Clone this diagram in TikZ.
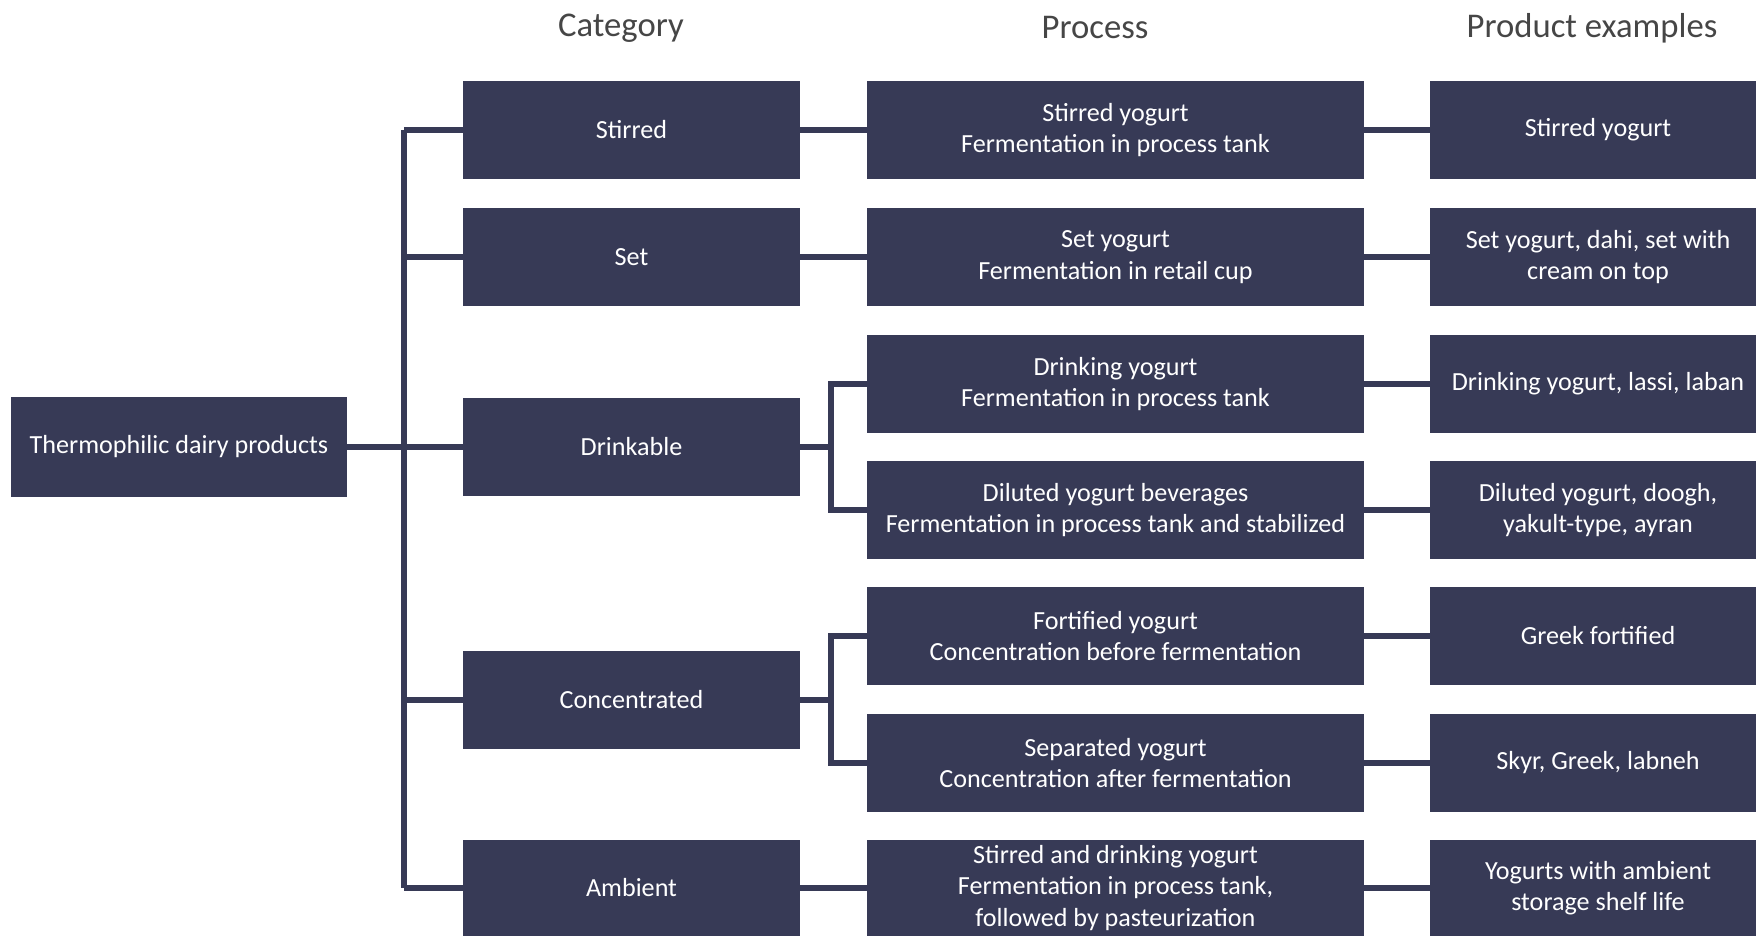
\documentclass[tikz,border=0pt]{standalone}
\usepackage{fontspec}
\setmainfont{Carlito}
\definecolor{boxc}{HTML}{373A56}
\definecolor{headc}{HTML}{464646}
\begin{document}
\begin{tikzpicture}[x=0.75pt,y=-0.75pt,
  box/.style={rectangle,fill=boxc,text=white,inner sep=0pt,align=center,
    font=\fontsize{19.6}{23.5}\selectfont},
  root/.style={box,minimum width=336*0.75pt,minimum height=100*0.75pt},
  cat/.style={box,minimum width=337*0.75pt,minimum height=98*0.75pt},
  proc/.style={box,minimum width=497*0.75pt,minimum height=98*0.75pt},
  prod/.style={box,minimum width=336*0.75pt,minimum height=98*0.75pt},
  head/.style={text=headc,font=\fontsize{26}{30}\selectfont,inner sep=0pt},
  conn/.style={draw=boxc,line width=4.5pt}]
\useasboundingbox (0,0) rectangle (1756,936);
% headers
\node[head] (h1) at (621,28) {Category};
\node[head] (h2) at (1095,28) {Process};
\node[head] (h3) at (1592,28) {Product examples};
% root
\node[root] (root) at (179,447) {Thermophilic dairy products};
% categories
\node[cat] (c1) at (631.5,130) {Stirred};
\node[cat] (c2) at (631.5,257) {Set};
\node[cat] (c3) at (631.5,447) {Drinkable};
\node[cat] (c4) at (631.5,700) {Concentrated};
\node[cat,minimum height=96*0.75pt] (c5) at (631.5,888) {Ambient};
% processes
\node[proc] (p1) at (1115.5,130) {Stirred yogurt\\Fermentation in process tank};
\node[proc] (p2) at (1115.5,257) {Set yogurt\\Fermentation in retail cup};
\node[proc] (p3) at (1115.5,384) {Drinking yogurt\\Fermentation in process tank};
\node[proc] (p4) at (1115.5,510) {Diluted yogurt beverages\\Fermentation in process tank and stabilized};
\node[proc] (p5) at (1115.5,636) {Fortified yogurt\\Concentration before fermentation};
\node[proc] (p6) at (1115.5,763) {Separated yogurt\\Concentration after fermentation};
\node[proc,minimum height=96*0.75pt] (p7) at (1115.5,888) {Stirred and drinking yogurt\\Fermentation in process tank,\\followed by pasteurization};
% products
\node[prod] (d1) at (1598,130) {Stirred yogurt};
\node[prod] (d2) at (1598,257) {Set yogurt, dahi, set with\\cream on top};
\node[prod] (d3) at (1598,384) {Drinking yogurt, lassi, laban};
\node[prod] (d4) at (1598,510) {Diluted yogurt, doogh,\\yakult-type, ayran};
\node[prod] (d5) at (1598,636) {Greek fortified};
\node[prod] (d6) at (1598,763) {Skyr, Greek, labneh};
\node[prod,minimum height=96*0.75pt] (d7) at (1598,888) {Yogurts with ambient\\storage shelf life};
% trunk
\coordinate (tt) at (404,130);
\coordinate (tb) at (404,888);
\draw[conn] (tt) -- (tb);
\draw[conn] (root.east) -- (root.east -| tt);
\foreach \c in {c1,c2,c3,c4,c5}{
  \draw[conn] (\c.west -| tt) -- (\c.west);
}
\draw[conn] (c1.east) -- (p1.west);
\draw[conn] (c2.east) -- (p2.west);
\draw[conn] (c5.east) -- (p7.west);
% brackets
\coordinate (bx) at (831,0);
\draw[conn] (c3.east) -- (c3.east -| bx);
\draw[conn] (p3.west) -- (p3.west -| bx) -- (p4.west -| bx) -- (p4.west);
\draw[conn] (c4.east) -- (c4.east -| bx);
\draw[conn] (p5.west) -- (p5.west -| bx) -- (p6.west -| bx) -- (p6.west);
\foreach \i in {1,...,7}{
  \draw[conn] (p\i.east) -- (d\i.west);
}
\end{tikzpicture}
\end{document}
